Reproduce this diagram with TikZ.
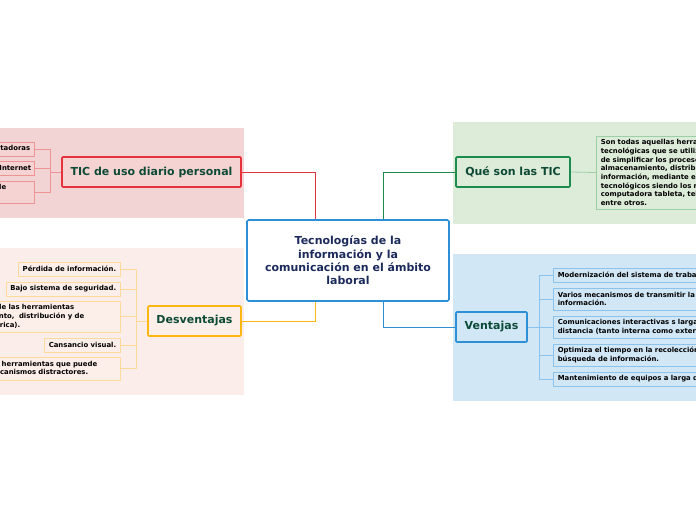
\documentclass[tikz,border=0pt]{standalone}
\usepackage{fontspec}
\setmainfont{DejaVu Sans}
\definecolor{bgpink}{HTML}{F2D4D4}
\definecolor{bgpeach}{HTML}{FBEEEA}
\definecolor{bggreen}{HTML}{DDEBD9}
\definecolor{bgblue}{HTML}{D1E7F6}
\definecolor{cred}{HTML}{E5323C}
\definecolor{cred2}{HTML}{EE9496}
\definecolor{cpinkfill}{HTML}{F6D3D3}
\definecolor{corange}{HTML}{FDB713}
\definecolor{corange2}{HTML}{FDDA9C}
\definecolor{cpeachfill}{HTML}{FCEFE9}
\definecolor{cgreen}{HTML}{1B8C4E}
\definecolor{cgreen2}{HTML}{9BCFA6}
\definecolor{cblue}{HTML}{2D8FD5}
\definecolor{cblue2}{HTML}{8CC3EC}
\definecolor{tgreen}{HTML}{0D4A36}
\definecolor{tnavy}{HTML}{1B2A5A}
\newcommand{\gapend}[1]{\rule{#1}{0pt}}
\tikzset{
  mainbox/.style={draw=cblue, line width=1.6pt, fill=white, rounded corners=1.5pt,
    minimum width=202pt, minimum height=81pt, align=center, text=tnavy,
    font=\fontsize{11}{13.3}\selectfont\bfseries, inner sep=0pt},
  topic/.style={line width=1.6pt, rounded corners=1pt, minimum height=30pt,
    text=tgreen, font=\fontsize{11}{13}\selectfont\bfseries, inner sep=0pt},
  leaf/.style={line width=0.6pt, font=\fontsize{6.9}{8.7}\selectfont\bfseries,
    align=left, inner xsep=4.5pt, inner ysep=3pt, text=black},
  rleaf/.style={leaf, align=right},
  conn/.style={line width=0.8pt},
}
\begin{document}
\begin{tikzpicture}[x=1pt,y=-1pt]
\useasboundingbox (0,0) rectangle (696,520);
\clip (0,0) rectangle (696,520);
% backgrounds
\fill[bgpink] (0,128) rectangle (244,218);
\fill[bgpeach] (0,248) rectangle (244,395);
\fill[bggreen] (453,122) rectangle (696,224);
\fill[bgblue] (453,254) rectangle (696,401);

% main
\node[mainbox] (main) at (348,260.5) {Tecnologías de la\\información y la\\comunicación en el ámbito\\laboral};

% topics
\node[topic, draw=cred, fill=cpinkfill, minimum width=179pt] (tic) at (151.5,172) {TIC de uso diario personal};
\node[topic, draw=cgreen, fill=bggreen, minimum width=114pt] (que) at (513,172) {Qué son las TIC};
\node[topic, draw=corange, fill=cpeachfill, minimum width=93pt] (desv) at (194.5,321) {Desventajas};
\node[topic, draw=cblue, fill=bgblue, minimum width=71pt] (vent) at (491.5,327) {Ventajas};

% main connectors
\draw[conn, cred] ([xshift=-33pt]main.north) |- (tic.east);
\draw[conn, cgreen] ([xshift=35pt]main.north) |- (que.west);
\draw[conn, corange] ([xshift=-33pt]main.south) |- (desv.east);
\draw[conn, cblue] ([xshift=35pt]main.south) |- (vent.west);

% TIC personal leaves
\node[leaf, draw=cred2, fill=cpinkfill, anchor=east, minimum height=14pt] (t1) at (35,149) {Uso de computadoras};
\node[leaf, draw=cred2, fill=cpinkfill, anchor=east, minimum height=14pt, inner xsep=3.5pt] (t2) at (35,168) {Uso de Internet};
\node[rleaf, draw=cred2, fill=cpinkfill, anchor=east, minimum height=22pt, text width=230pt] (t3) at (35,192) {Uso de teléfono móvil, siempre disponible\gapend{24pt}\\y portátil.\gapend{60pt}};
\coordinate (jt) at (50,172);
\draw[conn, cred2] (tic.west) -- (jt);
\foreach \n in {t1,t2,t3} \draw[conn, cred2] (\n.east) -| (jt);

% Desventajas leaves
\node[leaf, draw=corange2, fill=cpeachfill, anchor=east, minimum height=14pt] (d1) at (121,269) {Pérdida de información.};
\node[leaf, draw=corange2, fill=cpeachfill, anchor=east, minimum height=14pt] (d2) at (121,289) {Bajo sistema de seguridad.};
\node[rleaf, draw=corange2, fill=cpeachfill, anchor=east, minimum height=31pt, text width=300pt] (d3) at (121,316.5) {Excesiva dependencia del uso de las herramientas\gapend{42pt}\\tecnológicas (almacenamiento,\ \ distribución y de\gapend{32pt}\\información en forma numérica).\gapend{96pt}};
\node[leaf, draw=corange2, fill=cpeachfill, anchor=east, minimum height=14pt] (d4) at (121,345) {Cansancio visual.};
\node[rleaf, draw=corange2, fill=cpeachfill, anchor=east, minimum height=23pt, text width=300pt] (d5) at (121,368.5) {Uso inadecuado de las herramientas que puede\gapend{19pt}\\generar o incluir mecanismos distractores.\gapend{28pt}};
\coordinate (jd) at (136,321);
\draw[conn, corange2] (desv.west) -- (jd);
\foreach \n in {d1,d2,d3,d4,d5} \draw[conn, corange2] (\n.east) -| (jd);

% Qué son leaf
\node[leaf, draw=cgreen2, fill=bggreen, anchor=west, minimum height=73pt, text width=170pt] (q1) at (596,172.5) {Son todas aquellas herramientas\\tecnológicas que se utilizan con el fin\\de simplificar los procesos de\\almacenamiento, distribución de\\información, mediante equipos\\tecnológicos siendo los más comunes la\\computadora tableta, teléfono celular,\\entre otros.};
\draw[conn, cgreen2] (que.east) -- (q1.west);

% Ventajas leaves
\node[leaf, draw=cblue2, fill=bgblue, anchor=west, minimum height=14pt, text width=210pt] (v1) at (553,275) {Modernización del sistema de trabajo.};
\node[leaf, draw=cblue2, fill=bgblue, anchor=west, minimum height=22pt, text width=210pt] (v2) at (553,299) {Varios mecanismos de transmitir la\\información.};
\node[leaf, draw=cblue2, fill=bgblue, anchor=west, minimum height=22pt, text width=210pt] (v3) at (553,327) {Comunicaciones interactivas s larga\\distancia (tanto interna como externa).};
\node[leaf, draw=cblue2, fill=bgblue, anchor=west, minimum height=22pt, text width=210pt] (v4) at (553,355) {Optimiza el tiempo en la recolección y\\búsqueda de información.};
\node[leaf, draw=cblue2, fill=bgblue, anchor=west, minimum height=14pt, text width=210pt] (v5) at (553,379) {Mantenimiento de equipos a larga distancia.};
\coordinate (jv) at (539,327);
\draw[conn, cblue2] (vent.east) -- (jv);
\foreach \n in {v1,v2,v3,v4,v5} \draw[conn, cblue2] (\n.west) -| (jv);
\end{tikzpicture}
\end{document}
